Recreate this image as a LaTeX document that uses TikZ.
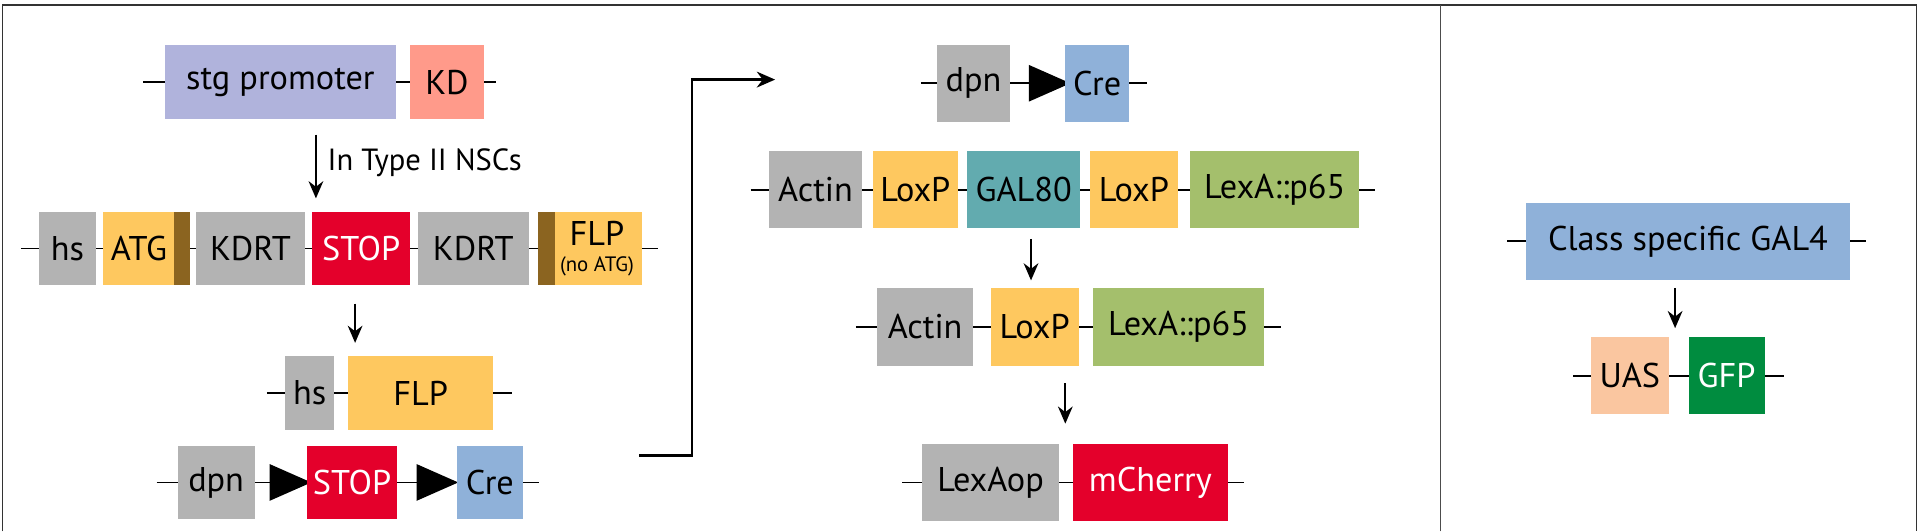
\documentclass[tikz,border=0pt]{standalone}
\usepackage{fontspec}
\setmainfont{PT Sans}
\usetikzlibrary{shapes.geometric, arrows.meta, positioning}
\definecolor{cgrey}{HTML}{B3B3B3}
\definecolor{cyel}{HTML}{FEC85F}
\definecolor{cbrown}{HTML}{8B6420}
\definecolor{cred}{HTML}{E4002B}
\definecolor{cblue}{HTML}{8FB1D9}
\definecolor{clav}{HTML}{B0B3DC}
\definecolor{csalmon}{HTML}{FF9A8A}
\definecolor{cteal}{HTML}{62ABAF}
\definecolor{cgreen}{HTML}{A4BF6C}
\definecolor{cpeach}{HTML}{FAC6A0}
\definecolor{cgfp}{HTML}{008C3F}

\begin{document}
\begin{tikzpicture}[x=1pt, y=1pt,
        gene/.style={minimum height=60pt, inner sep=0pt, font=\fontsize{28}{30}\selectfont},
        bar/.style={fill=cbrown, minimum height=60pt, inner sep=0pt},
        lox/.style={isosceles triangle, isosceles triangle stretches, fill=black, inner sep=0pt, minimum width=30pt, minimum height=34pt},
        dna/.style={line width=1.5pt},
        conv/.style={line width=1.8pt, -{Stealth[length=14pt, width=12pt]}}
    ]
        \useasboundingbox (0,0) rectangle (1568,434);
        \draw[line width=1.2pt, black!80] (2,0) -- (2,430) -- (1565,430) -- (1565,0);
        \draw[line width=0.6pt, black!70] (1176,0) -- (1176,430);

        % stg promoter
        \coordinate (a0) at (117,367); \coordinate (a1) at (405,367);
        \draw[dna] (a0) -- (a1);
        \node[gene, fill=clav, minimum width=188pt] (stg) at (229,367) {stg promoter};
        \node[gene, fill=csalmon, minimum width=60pt] (kd) at (365,367) {KD};

        \coordinate (s1) at (258,324); \coordinate (e1) at (258,272);
        \draw[conv] (s1) -- (e1);
        \node[anchor=west, font=\fontsize{25}{28}\selectfont] (nsc) at (264,301) {In Type II NSCs};

        % KDRT cassette
        \coordinate (b0) at (17,231); \coordinate (b1) at (537,231);
        \draw[dna] (b0) -- (b1);
        \node[gene, fill=cgrey, minimum width=46pt] (hs1) at (55,231) {hs};
        \node[gene, fill=cyel, minimum width=71pt] (atg) at (119.5,231) {\hspace*{-12pt}ATG};
        \node[bar, minimum width=13pt] (atgbar) at (148.5,231) {};
        \node[gene, fill=cgrey, minimum width=89pt] (kdrt1) at (204.5,231) {KDRT};
        \node[gene, fill=cred, text=white, minimum width=80pt] (stop1) at (295,231) {STOP};
        \node[gene, fill=cgrey, minimum width=91pt] (kdrt2) at (386.5,231) {KDRT};
        \node[gene, fill=cyel, minimum width=85pt, align=center] (flp1) at (481.5,231)
            {\hspace*{12pt}FLP\\[-9pt]\hspace*{12pt}{\fontsize{17}{17}\selectfont(no ATG)}};
        \node[bar, minimum width=14pt] (flpbar) at (446,231) {};

        \coordinate (s2) at (290,186); \coordinate (e2) at (290,154);
        \draw[conv] (s2) -- (e2);

        % hs FLP
        \coordinate (c0) at (218,113); \coordinate (c1) at (418,113);
        \draw[dna] (c0) -- (c1);
        \node[gene, fill=cgrey, minimum width=40pt] (hs2) at (253,113) {hs};
        \node[gene, fill=cyel, minimum width=119pt] (flp2) at (343.5,113) {FLP};

        % dpn STOP Cre
        \coordinate (d0) at (128,40); \coordinate (d1) at (440,40);
        \draw[dna] (d0) -- (d1);
        \node[gene, fill=cgrey, minimum width=63pt] (dpn1) at (176.5,40) {dpn};
        \node[lox] (t1) at (230,40) {};
        \node[gene, fill=cred, text=white, minimum width=73pt] (stop2) at (287.5,40) {STOP};
        \node[lox] (t2) at (350,40) {};
        \node[gene, fill=cblue, minimum width=54pt] (cre1) at (400,40) {Cre};

        \coordinate (k0) at (522,62); \coordinate (k1) at (565,62);
        \coordinate (k2) at (565,369); \coordinate (k3) at (633,369);
        \draw[line width=1.8pt, -{Stealth[length=15pt, width=13pt]}] (k0) -- (k1) -- (k2) -- (k3);

        % dpn Cre
        \coordinate (f0) at (752,366); \coordinate (f1) at (937,366);
        \draw[dna] (f0) -- (f1);
        \node[gene, fill=cgrey, minimum width=60pt, minimum height=63pt] (dpn2) at (795,366) {dpn};
        \node[lox] (t3) at (850,366) {};
        \node[gene, fill=cblue, minimum width=52pt, minimum height=63pt] (cre2) at (896,366) {Cre};

        % Actin LoxP GAL80
        \coordinate (g0) at (613,279); \coordinate (g1) at (1123,279);
        \draw[dna] (g0) -- (g1);
        \node[gene, fill=cgrey, minimum width=76pt, minimum height=63pt] (act1) at (666,279) {Actin};
        \node[gene, fill=cyel, minimum width=69pt, minimum height=63pt] (lox1) at (747.5,279) {LoxP};
        \node[gene, fill=cteal, minimum width=92pt, minimum height=63pt] (gal80) at (836,279) {GAL80};
        \node[gene, fill=cyel, minimum width=72pt, minimum height=63pt] (lox2) at (926,279) {LoxP};
        \node[gene, fill=cgreen, minimum width=138pt, minimum height=63pt] (lexa1) at (1041,279) {LexA::p65};

        \coordinate (s3) at (842,239); \coordinate (e3) at (842,205);
        \draw[conv] (s3) -- (e3);

        % Actin LoxP LexA
        \coordinate (h0) at (699,167); \coordinate (h1) at (1046,167);
        \draw[dna] (h0) -- (h1);
        \node[gene, fill=cgrey, minimum width=79pt, minimum height=63pt] (act2) at (755.5,167) {Actin};
        \node[gene, fill=cyel, minimum width=72pt, minimum height=63pt] (lox3) at (845,167) {LoxP};
        \node[gene, fill=cgreen, minimum width=139pt, minimum height=63pt] (lexa2) at (962.5,167) {LexA::p65};

        \coordinate (s4) at (870,121); \coordinate (e4) at (870,88);
        \draw[conv] (s4) -- (e4);

        % LexAop mCherry
        \coordinate (m0) at (737,40); \coordinate (m1) at (1016,40);
        \draw[dna] (m0) -- (m1);
        \node[gene, fill=cgrey, minimum width=112pt, minimum height=63pt] (lexaop) at (809,40) {LexAop};
        \node[gene, fill=cred, text=white, minimum width=127pt, minimum height=63pt] (mch) at (939.5,40) {mCherry};

        % GAL4 UAS GFP
        \coordinate (u0) at (1231,237); \coordinate (u1) at (1524,237);
        \draw[dna] (u0) -- (u1);
        \node[gene, fill=cblue, minimum width=265pt, minimum height=63pt] (gal4) at (1378.5,237) {Class specific GAL4};

        \coordinate (s5) at (1368,199); \coordinate (e5) at (1368,166);
        \draw[conv] (s5) -- (e5);

        \coordinate (v0) at (1285,127); \coordinate (v1) at (1457,127);
        \draw[dna] (v0) -- (v1);
        \node[gene, fill=cpeach, minimum width=64pt, minimum height=63pt] (uas) at (1331,127) {UAS};
        \node[gene, fill=cgfp, text=white, minimum width=62pt, minimum height=63pt] (gfp) at (1410,127) {GFP};
    \end{tikzpicture}
\end{document}
